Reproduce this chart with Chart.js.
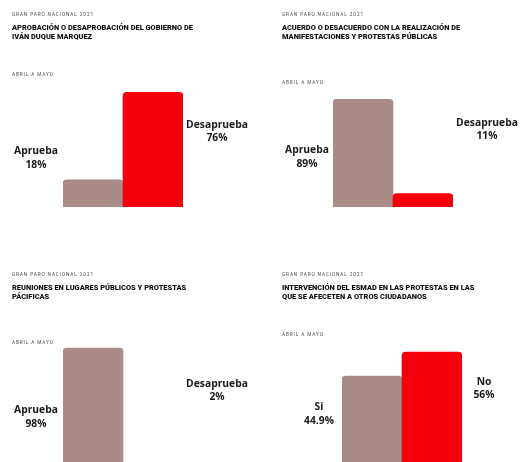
<!DOCTYPE html>
<html>
<head>
<meta charset="utf-8">
<script src="https://cdn.jsdelivr.net/npm/chart.js@4/dist/chart.umd.min.js"></script>
<style>
  html, body { margin:0; padding:0; background:#fff; width:520px; height:462px; overflow:hidden; }
  .panel { position:absolute; width:260px; height:231px; }
  .kicker { position:absolute; font-family:Roboto, sans-serif; font-size:4.7px; letter-spacing:0.9px; color:#4a4a4a; white-space:nowrap; line-height:6px; }
  .title { position:absolute; font-family:Roboto, sans-serif; font-weight:900; font-size:7.45px; line-height:9.3px; color:#111; white-space:nowrap; }
  canvas { position:absolute; }
</style>
</head>
<body>
<div id="root"></div>
<script>
// ---- data ----
const kicker = "GRAN PARO NACIONAL 2021";
const period = "ABRIL A MAYO";
const titles = [
  ["APROBACIÓN O DESAPROBACIÓN DEL GOBIERNO DE", "IVÁN DUQUE MARQUEZ"],
  ["ACUERDO O DESACUERDO CON LA REALIZACIÓN DE", "MANIFESTACIONES Y PROTESTAS PÚBLICAS"],
  ["REUNIONES EN LUGARES PÚBLICOS Y PROTESTAS", "PÁCIFICAS"],
  ["INTERVENCIÓN DEL ESMAD EN LAS PROTESTAS EN LAS", "QUE SE AFECETEN A OTROS CIUDADANOS"]
];
const categories1 = ["Aprueba", "Desaprueba"];
const categories2 = ["Aprueba", "Desaprueba"];
const categories3 = ["Aprueba", "Desaprueba"];
const categories4 = ["Si", "No"];
const values1 = [18, 76];
const values2 = [89, 11];
const values3 = [98, 2];
const values4 = [44.9, 56];
const valueLabels1 = ["18%", "76%"];
const valueLabels2 = ["89%", "11%"];
const valueLabels3 = ["98%", "2%"];
const valueLabels4 = ["44.9%", "56%"];

const categories = [categories1, categories2, categories3, categories4];
const values = [values1, values2, values3, values4];
const valueLabels = [valueLabels1, valueLabels2, valueLabels3, valueLabels4];

// ---- layout (positions / styles) ----
const colors = ["#A98B87", "#F3000A"];
const panels = [
  { x:0,   y:0,   textX:12, kickerY:12,  titleY:23,  periodY:72,  pad:{left:63, right:77, top:56, bottom:73}, offL:27, offR:34, yL:151, yR:125 },
  { x:260, y:0,   textX:22, kickerY:12,  titleY:23,  periodY:80,  pad:{left:73, right:67, top:86, bottom:73}, offL:26, offR:34, yL:150, yR:123 },
  { x:0,   y:231, textX:12, kickerY:41,  titleY:52,  periodY:109, pad:{left:63, right:77, top:114, bottom:16}, offL:27, offR:34, yL:179, yR:153 },
  { x:260, y:231, textX:22, kickerY:41,  titleY:52,  periodY:101, pad:{left:82, right:58, top:26, bottom:38}, offL:23, offR:22, yL:176, yR:151 }
];

const labelPlugin = {
  id: 'sideLabels',
  afterDatasetsDraw(chart, args, opts) {
    const ctx = chart.ctx;
    const meta = chart.getDatasetMeta(0);
    const b0 = meta.data[0], b1 = meta.data[1];
    const cats = chart.data.labels;
    const lbls = opts.valueLabels;
    ctx.save();
    ctx.fillStyle = '#1a1a1a';
    ctx.font = '700 10.3px "Open Sans", sans-serif';
    ctx.textAlign = 'center';
    ctx.textBaseline = 'middle';
    const xl = b0.x - b0.width / 2 - opts.offL;
    const xr = b1.x + b1.width / 2 + opts.offR;
    ctx.fillText(cats[0], xl, opts.yL);
    ctx.fillText(lbls[0], xl, opts.yL + 14);
    ctx.fillText(cats[1], xr, opts.yR);
    ctx.fillText(lbls[1], xr, opts.yR + 13.5);
    ctx.restore();
  }
};

const root = document.getElementById('root');
panels.forEach((p, i) => {
  const panel = document.createElement('div');
  panel.className = 'panel';
  panel.style.left = p.x + 'px';
  panel.style.top = p.y + 'px';
  const k = document.createElement('div');
  k.className = 'kicker'; k.textContent = kicker;
  k.style.left = p.textX + 'px'; k.style.top = p.kickerY + 'px';
  const t = document.createElement('div');
  t.className = 'title';
  t.innerHTML = titles[i].join('<br>');
  t.style.left = p.textX + 'px'; t.style.top = p.titleY + 'px';
  const per = document.createElement('div');
  per.className = 'kicker'; per.textContent = period;
  per.style.left = p.textX + 'px'; per.style.top = p.periodY + 'px';
  const c = document.createElement('canvas');
  c.style.left = '0px'; c.style.top = '0px';
  c.style.width = '260px'; c.style.height = '280px';
  c.width = 260; c.height = 280;
  panel.appendChild(c);
  panel.appendChild(k); panel.appendChild(t); panel.appendChild(per);
  root.appendChild(panel);

  new Chart(c, {
    type: 'bar',
    data: {
      labels: categories[i],
      datasets: [{
        data: values[i],
        backgroundColor: colors,
        borderRadius: 4,
        borderSkipped: 'bottom',
        barPercentage: 1,
        categoryPercentage: 1
      }]
    },
    options: {
      responsive: false,
      animation: false,
      devicePixelRatio: 1,
      layout: { padding: p.pad },
      scales: {
        x: { display: false },
        y: { display: false, min: 0, max: 100 }
      },
      plugins: {
        legend: { display: false },
        tooltip: { enabled: false },
        sideLabels: { valueLabels: valueLabels[i], offL: p.offL, offR: p.offR, yL: p.yL, yR: p.yR }
      }
    },
    plugins: [labelPlugin]
  });
});
</script>
</body>
</html>
